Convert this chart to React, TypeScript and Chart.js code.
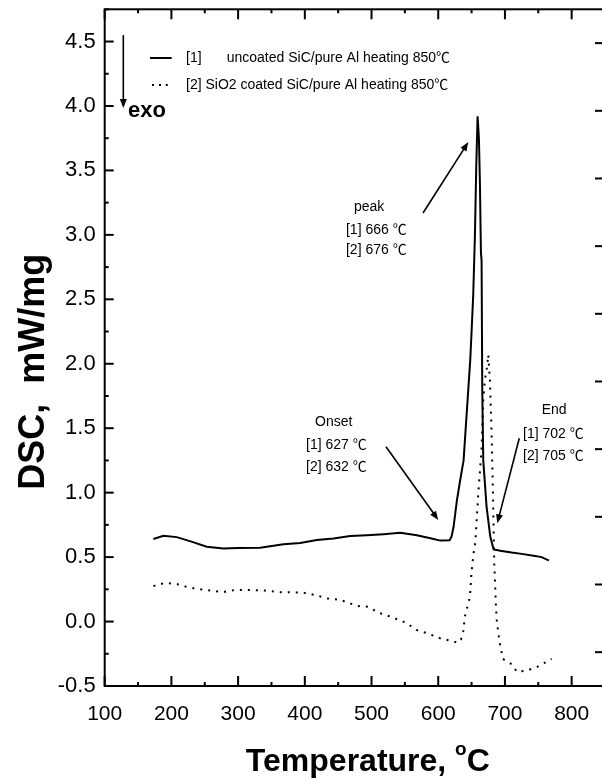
import React, { useEffect, useRef } from 'react';
import { Chart, registerables } from 'chart.js';

Chart.register(...registerables);

// ---- data (temperature in °C, DSC in mW/mg) ----
const temp1 = [173, 188, 208, 230, 253, 278, 300, 333, 368, 393, 418, 443, 468, 493, 518, 543, 568, 590, 603, 617,
  620, 623, 628, 633, 638, 643, 648, 650, 652.5, 655, 657, 659, 661, 662.5, 664, 665, 666, 667.5, 672.5, 678,
  683, 693, 710, 725, 743, 755, 763, 766];
const dsc1 = [0.64, 0.665, 0.655, 0.62, 0.58, 0.567, 0.57, 0.572, 0.6, 0.61, 0.632, 0.645, 0.663, 0.67, 0.678, 0.688, 0.67, 0.645, 0.628, 0.63,
  0.66, 0.735, 0.94, 1.1, 1.25, 1.64, 2.03, 2.25, 2.54, 3.0, 3.53, 3.92, 3.75, 3.4, 2.86, 2.8, 1.8, 1.25, 0.89, 0.66,
  0.56, 0.55, 0.535, 0.525, 0.51, 0.5, 0.48, 0.475];

const temp2 = [173, 190, 209, 225, 243, 260, 277, 295, 318, 340, 364, 396, 417, 432, 452, 479, 495, 510, 530, 552,
  567, 583, 603, 615, 630, 634, 637, 640, 644, 647.5, 650, 653, 655.5, 658, 660, 663, 665, 667.5, 670, 672.5,
  675, 677.5, 680, 682, 684, 686.5, 688, 692, 697, 703, 710, 718, 725, 733, 749, 770];
const dsc2 = [0.275, 0.3, 0.29, 0.265, 0.25, 0.24, 0.228, 0.245, 0.245, 0.24, 0.228, 0.225, 0.205, 0.18, 0.17, 0.12, 0.115, 0.07, 0.035, -0.01,
  -0.065, -0.09, -0.13, -0.145, -0.165, -0.14, -0.1, 0.04, 0.12, 0.19, 0.39, 0.53, 0.61, 0.82, 0.99, 1.2, 1.35, 1.72, 1.88, 1.95,
  2.07, 1.87, 1.46, 1.0, 0.45, 0.12, -0.01, -0.16, -0.29, -0.31, -0.33, -0.39, -0.385, -0.38, -0.35, -0.29];

const xTickValues = [100, 200, 300, 400, 500, 600, 700, 800];
const yTickValues = [-0.5, 0, 0.5, 1, 1.5, 2, 2.5, 3, 3.5, 4, 4.5];

const seriesNames = ['uncoated SiC/pure Al heating 850℃', 'SiO2 coated SiC/pure Al heating 850℃'];
const seriesTags = ['[1]', '[2]'];
const peakLines = ['peak', '[1] 666 ℃', '[2] 676 ℃'];
const onsetLines = ['Onset', '[1] 627 ℃', '[2] 632 ℃'];
const endLines = ['End', '[1] 702 ℃', '[2] 705 ℃'];
const xTitle = 'Temperature, ';
const xTitleSup = 'o';
const xTitleUnit = 'C';
const yTitle = 'DSC,  mW/mg';
const exoLabel = 'exo';

const X_MIN = 100, X_MAX = 850, Y_MIN = -0.5, Y_MAX = 4.75;

const FONT = '"Liberation Sans", Arial, "Noto Sans CJK SC", sans-serif';

export default function App() {
  const ref = useRef<HTMLCanvasElement>(null);

  useEffect(() => {
    const canvas = ref.current!;

    const decor = {
      id: 'decor',
      afterDraw(chart: any) {
        const ctx: CanvasRenderingContext2D = chart.ctx;
        const { left, right, top, bottom } = chart.chartArea;
        const xs = chart.scales.x;
        const ys = chart.scales.y;
        const ys2 = chart.scales.y2;
        const X = (v: number) => xs.getPixelForValue(v);
        const Y = (v: number) => ys.getPixelForValue(v);

        const seg = (x1: number, y1: number, x2: number, y2: number) => {
          ctx.beginPath(); ctx.moveTo(x1, y1); ctx.lineTo(x2, y2); ctx.stroke();
        };
        const arrow = (t1: number, v1: number, t2: number, v2: number) => {
          const x1 = X(t1), y1 = Y(v1), x2 = X(t2), y2 = Y(v2);
          const a = Math.atan2(y2 - y1, x2 - x1);
          const L = 9, W = 3.5;
          ctx.lineWidth = 1.6;
          seg(x1, y1, x2 - Math.cos(a) * L * 0.6, y2 - Math.sin(a) * L * 0.6);
          ctx.beginPath();
          ctx.moveTo(x2, y2);
          ctx.lineTo(x2 - Math.cos(a) * L - Math.sin(a) * W, y2 - Math.sin(a) * L + Math.cos(a) * W);
          ctx.lineTo(x2 - Math.cos(a) * L + Math.sin(a) * W, y2 - Math.sin(a) * L - Math.cos(a) * W);
          ctx.closePath();
          ctx.fill();
        };
        const text = (s: string, t: number, v: number, font: string) => {
          ctx.font = font;
          ctx.textAlign = 'left';
          ctx.textBaseline = 'middle';
          ctx.fillText(s, X(t), Y(v));
        };

        ctx.save();
        ctx.strokeStyle = '#000';
        ctx.fillStyle = '#000';

        // frame
        ctx.lineWidth = 2;
        ctx.strokeRect(left, top, right - left, bottom - top);

        // x ticks (bottom + top, inward)
        for (let v = X_MIN; v <= X_MAX + 1e-6; v += 50) {
          const px = X(v);
          const len = v % 100 === 0 ? 10 : 4;
          seg(px, bottom, px, bottom - len);
          seg(px, top, px, top + len);
        }
        // left ticks
        for (let v = Y_MIN; v <= Y_MAX + 1e-6; v += 0.25) {
          const py = Y(v);
          const major = Math.abs(v * 2 - Math.round(v * 2)) < 1e-6;
          seg(left, py, left + (major ? 9 : 4), py);
        }
        // right ticks (own scale)
        for (let v = -0.25; v <= 4.75 + 1e-6; v += 0.25) {
          const py = ys2.getPixelForValue(v);
          const major = Math.abs(v * 2 - Math.round(v * 2)) < 1e-6;
          seg(right, py, right - (major ? 10 : 3), py);
        }

        // legend
        const small = `14px ${FONT}`;
        ctx.lineWidth = 2;
        seg(X(167.9), Y(4.372), X(200.4), Y(4.372));
        for (const t of [172.4, 182.9, 193]) {
          ctx.fillRect(X(t) - 1, Y(4.163) - 1, 2, 2);
        }
        text(seriesTags[0], 221.9, 4.372, small);
        text(seriesNames[0], 282.9, 4.372, small);
        text(seriesTags[1] + ' ' + seriesNames[1], 221.9, 4.163, small);

        // exo arrow
        arrow(127.9, 4.55, 127.9, 3.984);
        text(exoLabel, 134.9, 3.961, `bold 22px ${FONT}`);

        // peak
        text(peakLines[0], 473.7, 3.218, small);
        text(peakLines[1], 461.7, 3.038, small);
        text(peakLines[2], 461.7, 2.882, small);
        arrow(577.2, 3.17, 645.1, 3.72);

        // onset
        text(onsetLines[0], 415.3, 1.55, small);
        text(onsetLines[1], 401.8, 1.37, small);
        text(onsetLines[2], 401.8, 1.201, small);
        arrow(521.7, 1.356, 600.1, 0.788);

        // end
        text(endLines[0], 755.1, 1.641, small);
        text(endLines[1], 727.1, 1.455, small);
        text(endLines[2], 727.1, 1.284, small);
        arrow(721.5, 1.422, 688.5, 0.762);

        // x title with superscript
        const big = `bold 32px ${FONT}`;
        const sup = `bold 19px ${FONT}`;
        ctx.font = big;
        const w1 = ctx.measureText(xTitle).width;
        const w3 = ctx.measureText(xTitleUnit).width;
        ctx.font = sup;
        const w2 = ctx.measureText(xTitleSup).width;
        const total = w1 + w2 + w3;
        const cx = (left + right) / 2 + 13;
        const base = bottom + 85;
        let xx = cx - total / 2;
        ctx.textAlign = 'left';
        ctx.textBaseline = 'alphabetic';
        ctx.font = big;
        ctx.fillText(xTitle, xx, base);
        xx += w1;
        ctx.font = sup;
        ctx.fillText(xTitleSup, xx, base - 16);
        xx += w2;
        ctx.font = big;
        ctx.fillText(xTitleUnit, xx, base);

        // y title
        ctx.save();
        ctx.translate(left - 71, (top + bottom) / 2 + 24);
        ctx.rotate(-Math.PI / 2);
        ctx.font = `bold 36px ${FONT}`;
        ctx.textAlign = 'center';
        ctx.textBaseline = 'middle';
        ctx.fillText(yTitle, 0, 0);
        ctx.restore();

        ctx.restore();
      },
    };

    const chart = new Chart(canvas, {
      type: 'line',
      data: {
        datasets: [
          {
            label: seriesNames[0],
            data: temp1.map((t, i) => ({ x: t, y: dsc1[i] })),
            borderColor: '#000',
            borderWidth: 2,
            pointRadius: 0,
            tension: 0,
            fill: false,
          },
          {
            label: seriesNames[1],
            data: temp2.map((t, i) => ({ x: t, y: dsc2[i] })),
            borderColor: '#000',
            borderWidth: 2,
            borderDash: [2, 6],
            pointRadius: 0,
            tension: 0,
            fill: false,
          },
        ],
      },
      options: {
        animation: false,
        responsive: false,
        devicePixelRatio: 1,
        layout: { padding: { top: 9.3, right: 15, left: 0, bottom: 0 } },
        plugins: { legend: { display: false }, tooltip: { enabled: false } },
        scales: {
          x: {
            type: 'linear',
            position: 'bottom',
            min: X_MIN,
            max: X_MAX,
            afterBuildTicks: (s: any) => { s.ticks = xTickValues.map((v) => ({ value: v })); },
            afterFit: (s: any) => { s.height = 92; s.paddingLeft = 0; s.paddingRight = 0; },
            grid: { display: false, drawTicks: false },
            border: { display: false },
            ticks: {
              color: '#000',
              font: { family: FONT, size: 21 },
              padding: 16,
              maxRotation: 0,
              autoSkip: false,
              callback: (v: any) => String(v),
            },
          },
          y: {
            type: 'linear',
            position: 'left',
            min: Y_MIN,
            max: Y_MAX,
            afterBuildTicks: (s: any) => { s.ticks = yTickValues.map((v) => ({ value: v })); },
            afterFit: (s: any) => { s.width = 104.7; s.paddingTop = 0; s.paddingBottom = 0; },
            grid: { display: false, drawTicks: false },
            border: { display: false },
            ticks: {
              color: '#000',
              font: { family: FONT, size: 22 },
              padding: 9,
              autoSkip: false,
              callback: (v: any) => Number(v).toFixed(1),
            },
          },
          y2: {
            type: 'linear',
            position: 'right',
            display: false,
            min: -0.25,
            max: 4.75,
          },
        },
      },
      plugins: [decor],
    });
    return () => chart.destroy();
  }, []);

  return (
    <div style={{ position: 'fixed', left: 0, top: 0, width: 602, height: 778, overflow: 'hidden', background: '#fff' }}>
      <canvas ref={ref} width={620} height={778} style={{ display: 'block', width: 620, height: 778 }} />
    </div>
  );
}
